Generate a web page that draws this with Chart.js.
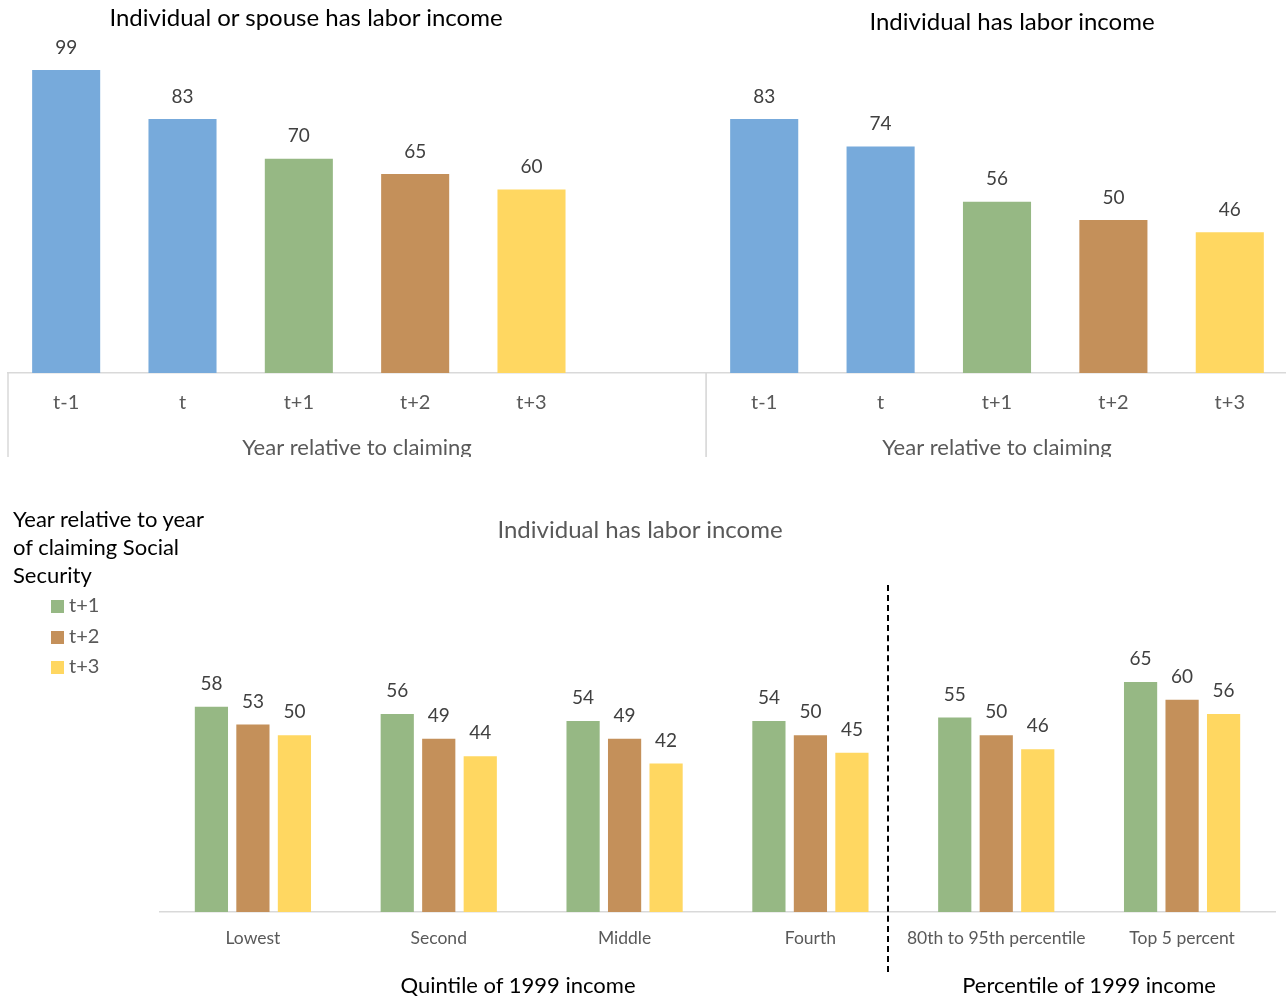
<!DOCTYPE html>
<html>
<head>
<meta charset="utf-8">
<script src="https://cdn.jsdelivr.net/npm/chart.js@4.4.1/dist/chart.umd.min.js"></script>
<style>
  html, body { margin: 0; padding: 0; background: #fff; overflow: hidden; }
  body { width: 1286px; height: 998px; position: relative; font-family: Lato, "Open Sans", sans-serif; }
  .box { position: absolute; }
  .clip { overflow: hidden; }
  .inner { position: relative; }
  .txt { position: absolute; white-space: nowrap; transform: translate(-50%, -50%); }
  #legend { position: absolute; left: 13px; top: 505px; font-size: 22px; line-height: 28px; color: #000; }
  #legend .item { color: #595959; font-size: 20px; line-height: 30.5px; margin-left: 38px; }
  #legend .sw { display: inline-block; width: 13px; height: 13px; margin-right: 5px; vertical-align: -1px; }
  #divider { position: absolute; left: 887px; top: 585px; height: 387px; border-left: 2px dashed #000; }
</style>
</head>
<body>
<div class="box clip" style="left:0;top:0;width:707px;height:457px;">
  <div class="inner" style="width:707px;height:470px;"><canvas id="topLeft"></canvas></div>
</div>
<div class="box clip" style="left:706px;top:0;width:582px;height:457px;">
  <div class="inner" style="width:582px;height:470px;"><canvas id="topRight"></canvas></div>
</div>
<div class="box" style="left:0;top:480px;width:1286px;height:518px;"><canvas id="bottom"></canvas></div>

<div class="txt" style="left:306px;top:16px;font-size:24px;color:#000;">Individual or spouse has labor income</div>
<div class="txt" style="left:1012px;top:20px;font-size:24px;color:#000;">Individual has labor income</div>
<div class="txt" style="left:640px;top:528px;font-size:24px;color:#595959;">Individual has labor income</div>
<div class="txt" style="left:518px;top:984px;font-size:22px;color:#000;">Quintile of 1999 income</div>
<div class="txt" style="left:1089px;top:984px;font-size:22px;color:#000;">Percentile of 1999 income</div>
<div id="divider"></div>
<div id="legend"></div>

<script>
// top panels
const yearLabels = ['t-1', 't', 't+1', 't+2', 't+3'];
const spouseValues = [99, 83, 70, 65, 60];
const individualValues = [83, 74, 56, 50, 46];

// bottom panel
const incomeGroups = ['Lowest', 'Second', 'Middle', 'Fourth', '80th to 95th percentile', 'Top 5 percent'];
const seriesNames = ['t+1', 't+2', 't+3'];
const t1Values = [58, 56, 54, 54, 55, 65];
const t2Values = [53, 49, 49, 50, 50, 60];
const t3Values = [50, 44, 42, 45, 46, 56];

const BLUE = '#77AADB', GREEN = '#96B884', BROWN = '#C4905A', YELLOW = '#FFD761';
const yearColors = [BLUE, BLUE, GREEN, BROWN, YELLOW];
const seriesColors = [GREEN, BROWN, YELLOW];
const FONT = 'Lato, "Open Sans", sans-serif';
const AXIS = '#d9d9d9';

Chart.defaults.font.family = FONT;
Chart.defaults.animation = false;
Chart.defaults.responsive = true;
Chart.defaults.maintainAspectRatio = false;

// numbers above bars
const valueLabels = {
  id: 'valueLabels',
  afterDatasetsDraw(chart, args, opts) {
    const ctx = chart.ctx;
    ctx.save();
    ctx.font = (opts.size || 19) + 'px ' + FONT;
    ctx.fillStyle = '#404040';
    ctx.textAlign = 'center';
    ctx.textBaseline = 'middle';
    chart.data.datasets.forEach((ds, i) => {
      chart.getDatasetMeta(i).data.forEach((bar, j) => {
        const v = ds.data[j];
        if (v == null) return;
        ctx.fillText(String(v), bar.x, bar.y - (opts.offset || 22));
      });
    });
    ctx.restore();
  }
};

// vertical edges of the category axis box (top panels)
const axisEdges = {
  id: 'axisEdges',
  afterDraw(chart, args, opts) {
    if (!opts.depth) return;
    const {ctx, chartArea} = chart;
    ctx.save();
    ctx.strokeStyle = AXIS;
    ctx.lineWidth = 1.5;
    ctx.beginPath();
    [chartArea.left, chartArea.right].forEach(x => {
      ctx.moveTo(x, chartArea.bottom);
      ctx.lineTo(x, chartArea.bottom + opts.depth);
    });
    ctx.stroke();
    ctx.restore();
  }
};

function topChart(id, labels, values, padLeft, padRight) {
  return new Chart(document.getElementById(id), {
    type: 'bar',
    data: {
      labels,
      datasets: [{
        data: values,
        backgroundColor: yearColors,
        categoryPercentage: 1,
        barPercentage: 0.585
      }]
    },
    options: {
      layout: { padding: { left: padLeft, right: padRight, top: 67, bottom: 0 } },
      plugins: {
        legend: { display: false },
        tooltip: { enabled: false },
        valueLabels: { offset: 22.5, size: 19 },
        axisEdges: { depth: 84 }
      },
      scales: {
        x: {
          grid: { display: false, drawTicks: false },
          border: { display: true, color: AXIS, width: 1.5 },
          ticks: { color: '#595959', font: { size: 20 }, padding: 18 },
          title: {
            display: true, text: 'Year relative to claiming', color: '#595959',
            font: { size: 22 }, padding: { top: 0, bottom: 9 }
          },
          afterFit: s => { s.height = 97; }
        },
        y: { display: false, min: 0, max: 100 }
      }
    },
    plugins: [valueLabels, axisEdges]
  });
}

topChart('topLeft', yearLabels.concat(['']), spouseValues.concat([null]), 8, 1);
topChart('topRight', yearLabels, individualValues, 0, 0);

new Chart(document.getElementById('bottom'), {
  type: 'bar',
  data: {
    labels: incomeGroups,
    datasets: [t1Values, t2Values, t3Values].map((vals, i) => ({
      label: seriesNames[i],
      data: vals,
      backgroundColor: seriesColors[i],
      categoryPercentage: 0.67,
      barPercentage: 0.8
    }))
  },
  options: {
    layout: { padding: { left: 160, right: 11, top: 149, bottom: 0 } },
    plugins: {
      legend: { display: false },
      tooltip: { enabled: false },
      valueLabels: { offset: 23, size: 19 },
      axisEdges: { depth: 0 }
    },
    scales: {
      x: {
        grid: { display: false, drawTicks: false },
        border: { display: true, color: AXIS, width: 1.5 },
        ticks: { color: '#595959', font: { size: 17.5 }, padding: 16 },
        afterFit: s => { s.height = 86; }
      },
      y: { display: false, min: 0, max: 80 }
    }
  },
  plugins: [valueLabels]
});

// legend built from the series
const legend = document.getElementById('legend');
legend.innerHTML = 'Year relative to year<br>of claiming Social<br>Security' +
  seriesNames.map((n, i) =>
    '<div class="item"><span class="sw" style="background:' + seriesColors[i] + '"></span>' + n + '</div>'
  ).join('');
</script>
</body>
</html>
